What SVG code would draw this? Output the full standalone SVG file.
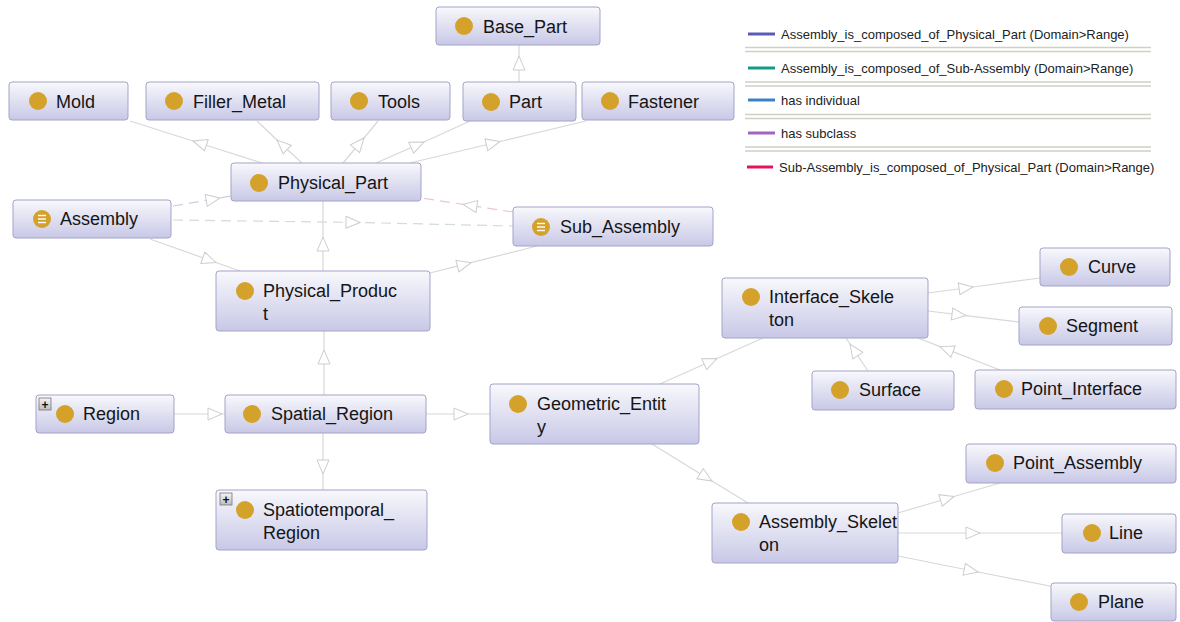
<svg xmlns="http://www.w3.org/2000/svg" width="1180" height="622" viewBox="0 0 1180 622">
<style>
.nb{fill:url(#ng);stroke:#a3a3c9;stroke-width:1}
.dot{fill:#d4a22a}
.lbl{font-family:"Liberation Sans",Arial,sans-serif;font-size:18px;fill:#151515}
.leg{font-family:"Liberation Sans",Arial,sans-serif;font-size:13px;fill:#222}
.e{fill:none;stroke:#d8d8d8;stroke-width:1.2;marker-mid:url(#tri)}
.d{fill:none;stroke-width:1.2;stroke-dasharray:10 6;marker-mid:url(#tri)}
.sep{stroke:#cfcfc4;stroke-width:1.3}
.pl{fill:url(#pg);stroke:#777;stroke-width:0.8}
.plt{font-family:"Liberation Sans",Arial,sans-serif;font-size:12px;font-weight:bold;fill:#111}
.ico{stroke:#fff;stroke-width:1.4}
</style>
<defs>
<linearGradient id="ng" x1="0" y1="0" x2="0" y2="1">
<stop offset="0" stop-color="#f8f8fc"/>
<stop offset="1" stop-color="#c8c8e7"/>
</linearGradient>
<linearGradient id="pg" x1="0" y1="0" x2="0" y2="1">
<stop offset="0" stop-color="#f4f4f4"/>
<stop offset="1" stop-color="#bdbdbd"/>
</linearGradient>
<marker id="tri" viewBox="0 0 16 14" refX="15" refY="7" markerWidth="16" markerHeight="14" markerUnits="userSpaceOnUse" orient="auto">
<path d="M15,7 L1,1 L1,13 Z" fill="#fff" stroke="#cdcdcd" stroke-width="1"/>
</marker>
</defs>
<rect width="1180" height="622" fill="#fff"/>

<g id="connectors">
<path class="e" d="M262,163 L193,141 L130,121"/>
<path class="e" d="M302,163 L277,140 L257,121"/>
<path class="e" d="M343,163 L364,138 L378,121"/>
<path class="e" d="M376,163 L424,142 L470,121"/>
<path class="e" d="M410,163 L500,141.5 L586,121"/>
<path class="e" d="M519,82 L519,56 L519,45"/>
<path class="d" stroke="#cdcde0" d="M173,206 L220,198 L231,196"/>
<path class="d" stroke="#d2dcdb" d="M173,220 L360,222.5 L513,226"/>
<path class="d" stroke="#e8c8d0" d="M513,212 L463,204.4 L421,198"/>
<path class="e" d="M150,239 L216,262.5 L240,271"/>
<path class="e" d="M430,273 L471,262.7 L537,246"/>
<path class="e" d="M323,271 L323,237 L323,201"/>
<path class="e" d="M324,395 L324,350 L324,331"/>
<path class="e" d="M323,433 L323,474 L323,490"/>
<path class="e" d="M174,414 L222,414 L225,414"/>
<path class="e" d="M426,414 L468,414 L490,414"/>
<path class="e" d="M660,384 L717,358.5 L763,338"/>
<path class="e" d="M928,293 L973,287 L1040,278"/>
<path class="e" d="M928,311 L966,315.6 L1019,322"/>
<path class="e" d="M868,371 L850,344 L846,338"/>
<path class="e" d="M1000,370 L940,346.6 L918,338"/>
<path class="e" d="M652,444 L712,481 L748,503"/>
<path class="e" d="M898,513 L954,496.5 L1000,483"/>
<path class="e" d="M898,533 L980,533 L1062,533"/>
<path class="e" d="M898,556 L978,572 L1060,588"/>
</g>

<g id="legend">
<line x1="748" y1="34" x2="775" y2="34" stroke="#5c5cb8" stroke-width="3"/>
<text class="leg" x="781" y="38.5">Assembly_is_composed_of_Physical_Part (Domain&gt;Range)</text>
<line class="sep" x1="745" y1="47.5" x2="1151" y2="47.5"/>
<line class="sep" x1="745" y1="51.5" x2="1151" y2="51.5"/>
<line x1="748" y1="68" x2="775" y2="68" stroke="#169a86" stroke-width="3"/>
<text class="leg" x="781" y="72.5">Assembly_is_composed_of_Sub-Assembly (Domain&gt;Range)</text>
<line class="sep" x1="745" y1="82" x2="1151" y2="82"/>
<line class="sep" x1="745" y1="86" x2="1151" y2="86"/>
<line x1="748" y1="100" x2="775" y2="100" stroke="#3a82c4" stroke-width="3"/>
<text class="leg" x="781" y="104.5">has individual</text>
<line class="sep" x1="745" y1="114.5" x2="1151" y2="114.5"/>
<line class="sep" x1="745" y1="118.5" x2="1151" y2="118.5"/>
<line x1="748" y1="133" x2="775" y2="133" stroke="#a264c2" stroke-width="3"/>
<text class="leg" x="781" y="137.5">has subclass</text>
<line class="sep" x1="745" y1="147" x2="1151" y2="147"/>
<line class="sep" x1="745" y1="151" x2="1151" y2="151"/>
<line x1="747" y1="167" x2="773" y2="167" stroke="#e5135e" stroke-width="3"/>
<text class="leg" x="779" y="171.5">Sub-Assembly_is_composed_of_Physical_Part (Domain&gt;Range)</text>
</g>

<g id="n-base-part"><rect class="nb" x="436" y="7" width="164" height="38" rx="3"/><circle class="dot" cx="464" cy="26" r="9"/><text class="lbl" x="483" y="32.5">Base_Part</text></g>
<g id="n-mold"><rect class="nb" x="9" y="82" width="119" height="38" rx="3"/><circle class="dot" cx="38" cy="101" r="9"/><text class="lbl" x="56" y="107.5">Mold</text></g>
<g id="n-filler-metal"><rect class="nb" x="146" y="82" width="173" height="38" rx="3"/><circle class="dot" cx="174" cy="101" r="9"/><text class="lbl" x="193" y="107.5">Filler_Metal</text></g>
<g id="n-tools"><rect class="nb" x="331" y="82" width="119" height="38" rx="3"/><circle class="dot" cx="359" cy="101" r="9"/><text class="lbl" x="378" y="107.5">Tools</text></g>
<g id="n-part"><rect class="nb" x="463" y="82" width="113" height="39" rx="3"/><circle class="dot" cx="491" cy="102" r="9"/><text class="lbl" x="509" y="108">Part</text></g>
<g id="n-fastener"><rect class="nb" x="582" y="82" width="152" height="38" rx="3"/><circle class="dot" cx="610" cy="101" r="9"/><text class="lbl" x="628" y="107.5">Fastener</text></g>
<g id="n-physical-part"><rect class="nb" x="231" y="163" width="190" height="38" rx="3"/><circle class="dot" cx="259" cy="183" r="9"/><text class="lbl" x="278" y="189">Physical_Part</text></g>
<g id="n-assembly"><rect class="nb" x="13" y="200" width="158" height="38" rx="3"/><circle class="dot" cx="42" cy="219" r="9"/><line class="ico" x1="38" y1="215.5" x2="46" y2="215.5"/><line class="ico" x1="38" y1="219" x2="46" y2="219"/><line class="ico" x1="38" y1="222.5" x2="46" y2="222.5"/><text class="lbl" x="60" y="225">Assembly</text></g>
<g id="n-sub-assembly"><rect class="nb" x="513" y="207" width="200" height="39" rx="3"/><circle class="dot" cx="541" cy="227" r="9"/><line class="ico" x1="537" y1="223.5" x2="545" y2="223.5"/><line class="ico" x1="537" y1="227" x2="545" y2="227"/><line class="ico" x1="537" y1="230.5" x2="545" y2="230.5"/><text class="lbl" x="560" y="233">Sub_Assembly</text></g>
<g id="n-physical-product"><rect class="nb" x="216" y="271" width="214" height="60" rx="3"/><circle class="dot" cx="245" cy="291" r="9"/><text class="lbl" x="263" y="297">Physical_Produc</text><text class="lbl" x="263" y="320">t</text></g>
<g id="n-region"><rect class="nb" x="36" y="395" width="138" height="38" rx="3"/><rect class="pl" x="39" y="398" width="12" height="12"/><text class="plt" x="45" y="408.5" text-anchor="middle">+</text><circle class="dot" cx="65" cy="414" r="9"/><text class="lbl" x="83" y="420">Region</text></g>
<g id="n-spatial-region"><rect class="nb" x="225" y="395" width="201" height="38" rx="3"/><circle class="dot" cx="252" cy="414" r="9"/><text class="lbl" x="271" y="420">Spatial_Region</text></g>
<g id="n-spatiotemporal-region"><rect class="nb" x="216" y="490" width="211" height="60" rx="3"/><rect class="pl" x="220" y="493" width="12" height="12"/><text class="plt" x="226" y="503.5" text-anchor="middle">+</text><circle class="dot" cx="245" cy="510" r="9"/><text class="lbl" x="263" y="516">Spatiotemporal_</text><text class="lbl" x="263" y="539">Region</text></g>
<g id="n-geometric-entity"><rect class="nb" x="490" y="384" width="209" height="60" rx="3"/><circle class="dot" cx="518" cy="404" r="9"/><text class="lbl" x="537" y="410">Geometric_Entit</text><text class="lbl" x="537" y="433">y</text></g>
<g id="n-interface-skeleton"><rect class="nb" x="722" y="278" width="206" height="60" rx="3"/><circle class="dot" cx="751" cy="297" r="9"/><text class="lbl" x="769" y="303">Interface_Skele</text><text class="lbl" x="769" y="326">ton</text></g>
<g id="n-curve"><rect class="nb" x="1040" y="248" width="130" height="38" rx="3"/><circle class="dot" cx="1069" cy="267" r="9"/><text class="lbl" x="1088" y="273">Curve</text></g>
<g id="n-segment"><rect class="nb" x="1019" y="307" width="153" height="38" rx="3"/><circle class="dot" cx="1048" cy="326" r="9"/><text class="lbl" x="1066" y="332">Segment</text></g>
<g id="n-surface"><rect class="nb" x="812" y="371" width="142" height="39" rx="3"/><circle class="dot" cx="840" cy="390" r="9"/><text class="lbl" x="859" y="396">Surface</text></g>
<g id="n-point-interface"><rect class="nb" x="975" y="370" width="201" height="39" rx="3"/><circle class="dot" cx="1004" cy="389" r="9"/><text class="lbl" x="1021" y="395">Point_Interface</text></g>
<g id="n-point-assembly"><rect class="nb" x="966" y="444" width="210" height="39" rx="3"/><circle class="dot" cx="995" cy="463" r="9"/><text class="lbl" x="1013" y="469">Point_Assembly</text></g>
<g id="n-assembly-skeleton"><rect class="nb" x="712" y="503" width="186" height="60" rx="3"/><circle class="dot" cx="741" cy="522" r="9"/><text class="lbl" x="759" y="528">Assembly_Skelet</text><text class="lbl" x="759" y="551">on</text></g>
<g id="n-line"><rect class="nb" x="1062" y="514" width="114" height="39" rx="3"/><circle class="dot" cx="1092" cy="533" r="9"/><text class="lbl" x="1109" y="539">Line</text></g>
<g id="n-plane"><rect class="nb" x="1051" y="583" width="125" height="38" rx="3"/><circle class="dot" cx="1079" cy="602" r="9"/><text class="lbl" x="1098" y="608">Plane</text></g>
</svg>
